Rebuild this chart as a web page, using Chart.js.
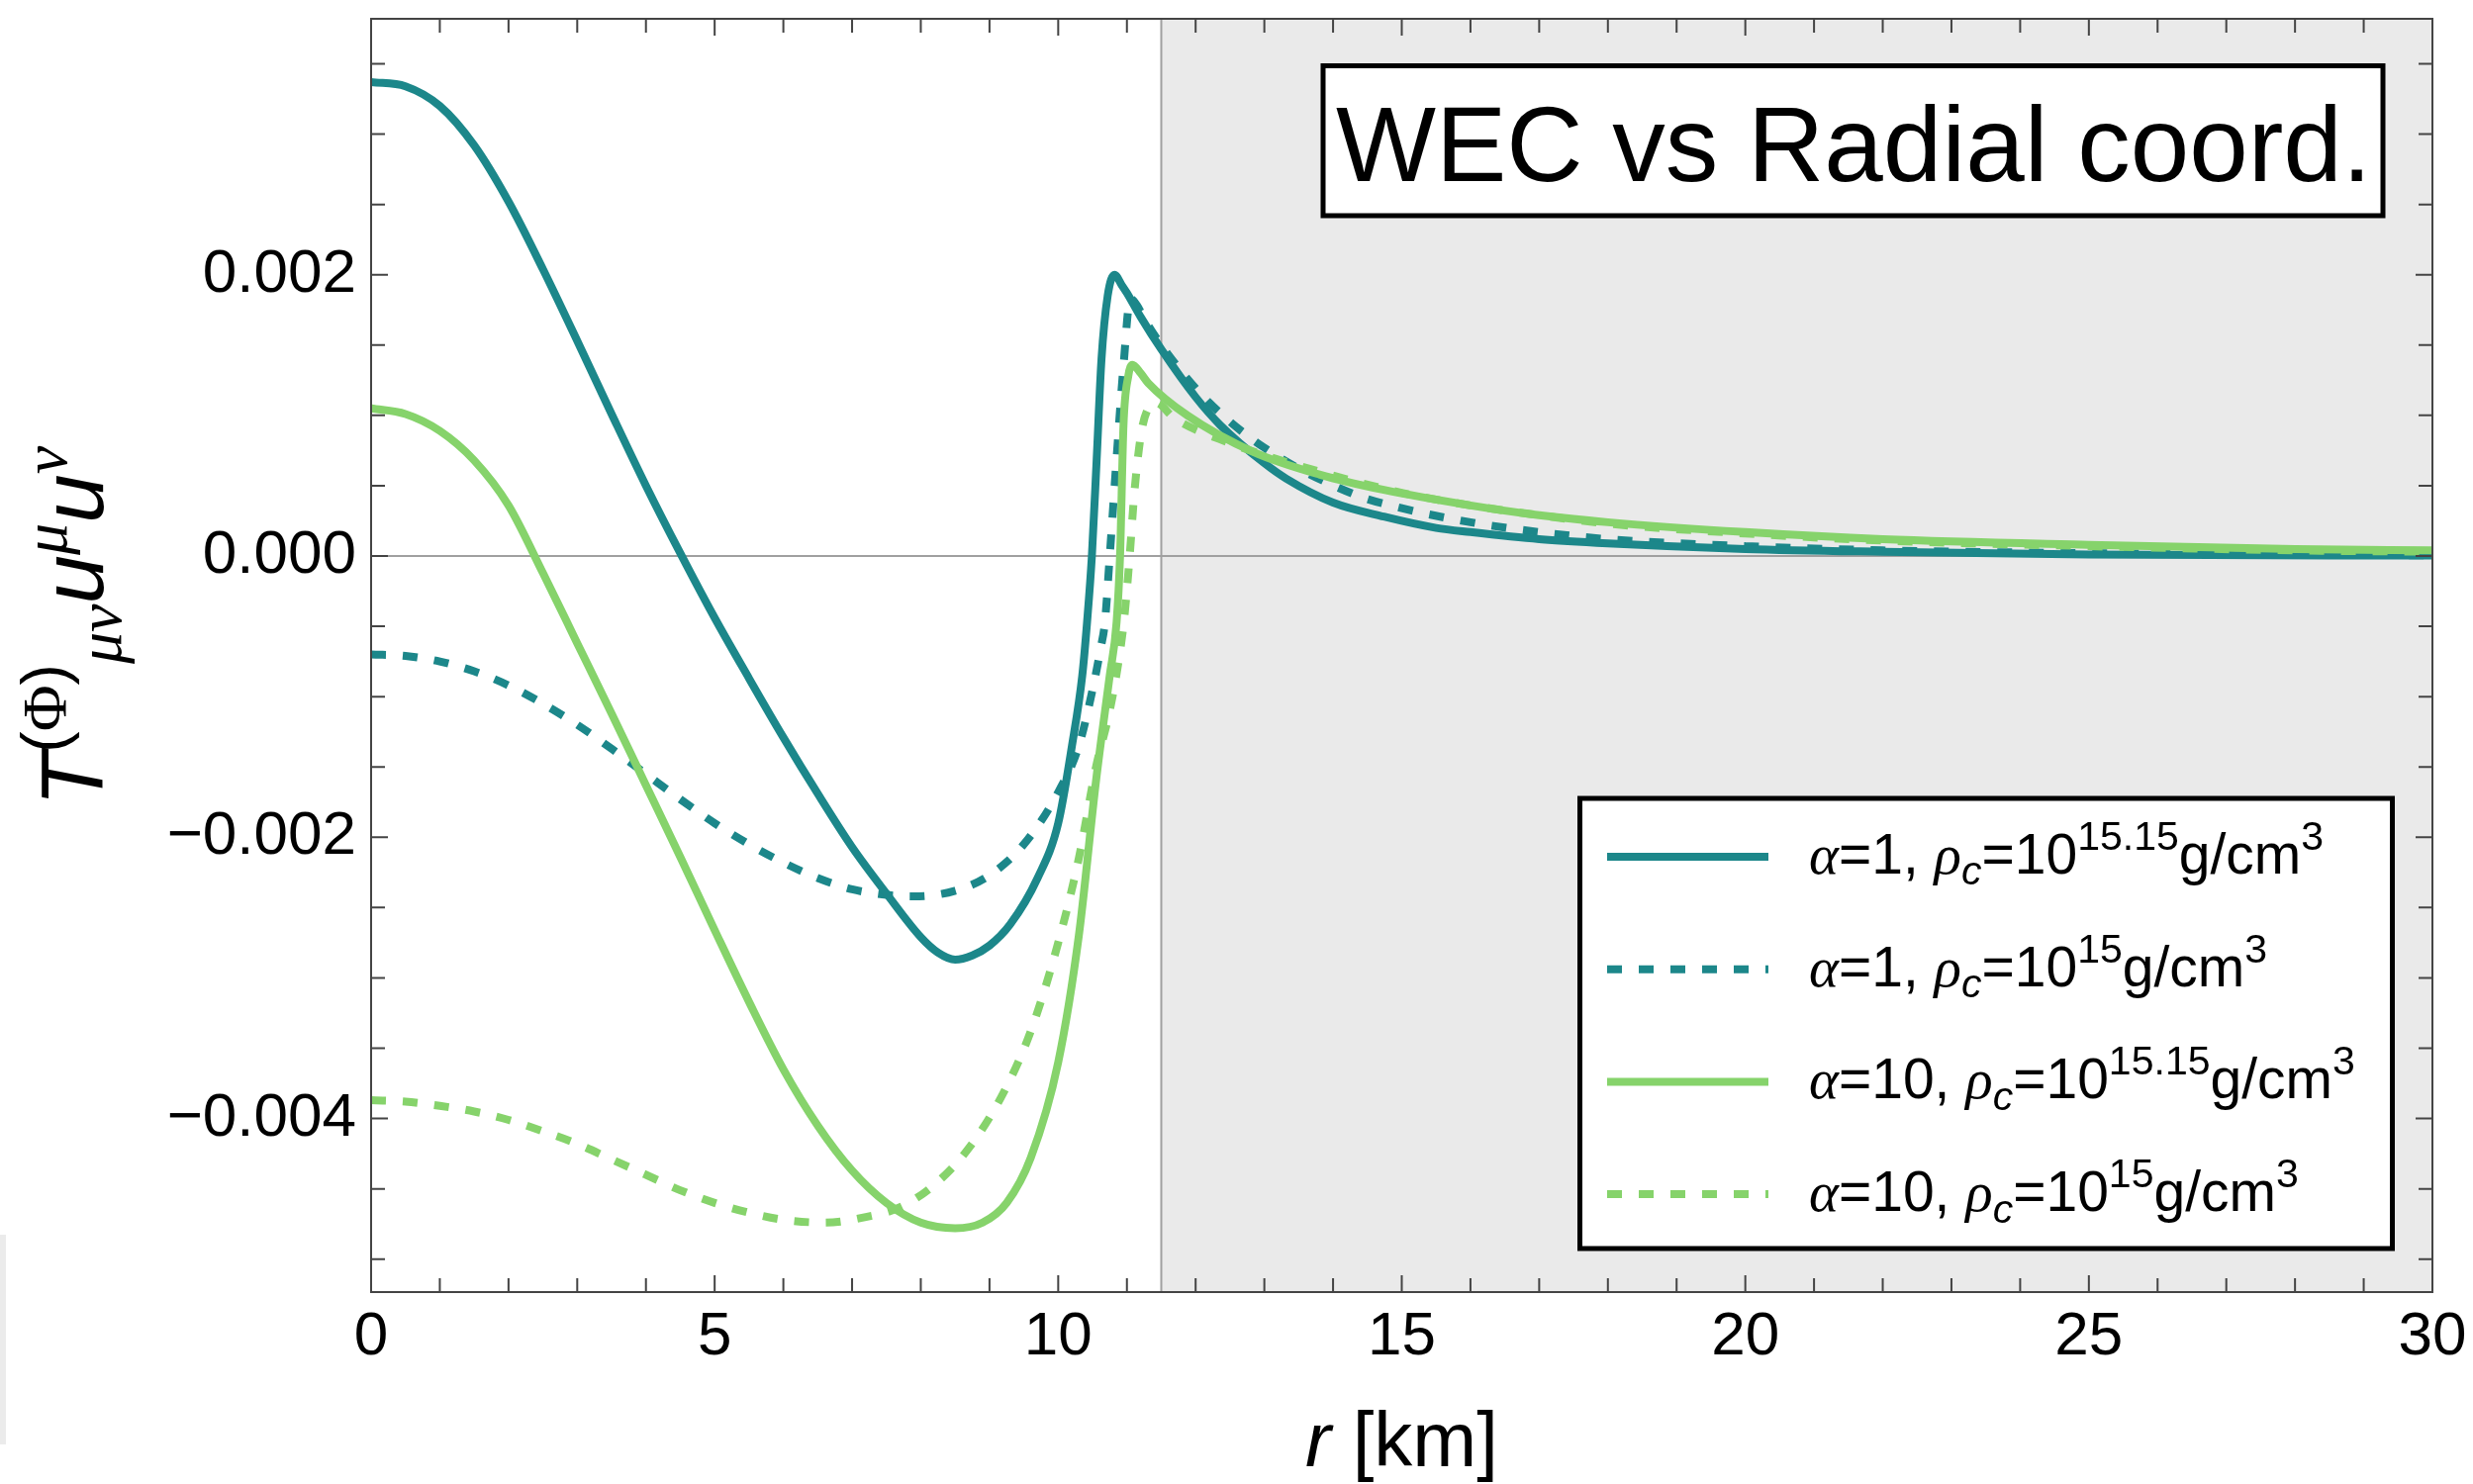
<!DOCTYPE html>
<html>
<head>
<meta charset="utf-8">
<title>WEC vs Radial coord.</title>
<script src="https://cdn.jsdelivr.net/npm/chart.js@4.4.1/dist/chart.umd.min.js"></script>
<style>
  html, body { margin: 0; padding: 0; background: #fff; }
  #wrap { width: 2499px; height: 1500px; }
</style>
</head>
<body>
<div id="wrap"><canvas id="wecChart" width="2499" height="1500"></canvas></div>
<script>
// r [km] and T_{mu nu} u^mu u^nu for each model
const rA = [0, 0.5, 1, 1.5, 2, 2.5, 3, 3.5, 4, 4.5, 5, 5.5, 6, 6.5, 7, 7.5, 8, 8.25, 8.5, 8.75, 9, 9.3, 9.7, 10, 10.2, 10.35, 10.42, 10.49, 10.56, 10.63, 10.72, 10.82, 10.92, 11.0, 11.2, 11.5, 12, 12.36, 13, 13.32, 14, 14.74, 15.5, 16, 17, 18, 20, 22, 25, 30];
const vA = [0.00337, 0.00334, 0.00320, 0.00292, 0.00252, 0.00204, 0.00153, 0.00101, 0.00050, 0.00002, -0.00044, -0.00087, -0.00129, -0.00169, -0.00207, -0.00240, -0.00271, -0.00282, -0.00287, -0.00284, -0.00277, -0.00262, -0.00229, -0.00190, -0.00135, -0.00085, -0.00047, 0, 0.00069, 0.00140, 0.00185, 0.00200, 0.00193, 0.00187, 0.00170, 0.00147, 0.00113, 0.00093, 0.00066, 0.00055, 0.00038, 0.00028, 0.00020, 0.00017, 0.00012, 0.00009, 0.00005, 0.00003, 0.00001, 0.000003];

const rB = [0, 0.5, 1, 1.5, 2, 2.5, 3, 3.5, 4, 4.5, 5, 5.5, 6, 6.5, 7, 7.5, 7.9, 8.5, 9, 9.5, 10, 10.3, 10.5, 10.62, 10.68, 10.75, 10.85, 10.95, 11.05, 11.15, 11.26, 11.62, 12.2, 13, 14.3, 15, 16, 17, 18, 20, 22, 25, 30];
const vB = [-0.00070, -0.00071, -0.00075, -0.00082, -0.00092, -0.00105, -0.00120, -0.00137, -0.00155, -0.00173, -0.00190, -0.00205, -0.00218, -0.00229, -0.00237, -0.00241, -0.00242, -0.00238, -0.00227, -0.00205, -0.00168, -0.00135, -0.00095, -0.00065, -0.00047, 0, 0.00070, 0.00135, 0.00183, 0.00178, 0.00168, 0.00142, 0.00109, 0.00077, 0.00044, 0.00034, 0.00024, 0.00017, 0.00012, 0.00007, 0.00004, 0.00002, 0.000005];

const rC = [0, 0.5, 1, 1.5, 2, 2.5, 3, 3.5, 4, 4.5, 5, 5.5, 6, 6.5, 7, 7.5, 8, 8.5, 8.9, 9.25, 9.6, 10, 10.3, 10.55, 10.75, 10.85, 10.9, 10.95, 11.02, 11.08, 11.2, 11.31, 11.88, 12.84, 13.8, 14.74, 16, 17, 18, 20, 22, 25, 28, 30];
const vC = [0.00105, 0.00101, 0.00089, 0.00068, 0.00036, -0.00012, -0.00062, -0.00112, -0.00163, -0.00214, -0.00266, -0.00317, -0.00365, -0.00405, -0.00437, -0.00460, -0.00474, -0.00478, -0.00474, -0.00460, -0.00428, -0.00360, -0.00270, -0.00160, -0.00085, -0.00047, 0, 0.00093, 0.00128, 0.00136, 0.00130, 0.00123, 0.00100, 0.00074, 0.00058, 0.00047, 0.00036, 0.00029, 0.00024, 0.00017, 0.00012, 0.00008, 0.00005, 0.00004];

const rD = [0, 0.5, 1, 1.5, 2, 2.5, 3, 3.5, 4, 4.5, 5, 5.5, 6, 6.6, 7.2, 7.7, 8.2, 8.7, 9.2, 9.6, 10, 10.3, 10.55, 10.75, 10.9, 10.97, 11.04, 11.11, 11.21, 11.31, 11.42, 11.69, 12.46, 13.8, 15, 16, 17, 18, 20, 22, 25, 28, 30];
const vD = [-0.00387, -0.00388, -0.00391, -0.00395, -0.00401, -0.00409, -0.00418, -0.00429, -0.00440, -0.00451, -0.00460, -0.00467, -0.00472, -0.00474, -0.00470, -0.00463, -0.00447, -0.00421, -0.00382, -0.00338, -0.00275, -0.00215, -0.00150, -0.00110, -0.00068, -0.00040, 0, 0.00046, 0.00088, 0.00105, 0.00109, 0.00098, 0.00081, 0.00060, 0.00045, 0.00036, 0.00029, 0.00023, 0.00016, 0.00011, 0.00007, 0.00004, 0.00003];

const alphaValues = ['1', '1', '10', '10'];
const rhoExponents = ['15.15', '15', '15.15', '15'];
const xTickValues = [0, 5, 10, 15, 20, 25, 30];
const yTickValues = [-0.004, -0.002, 0, 0.002];
const surfaceR = 11.5;
const chartTitle = 'WEC vs Radial coord.';

const teal = '#1c878a';
const green = '#86d36b';
const dash = [15, 17];
const sans = '"Liberation Sans", Arial, sans-serif';
const serif = '"Liberation Serif", "DejaVu Serif", serif';

const toXY = (rs, vs) => rs.map((r, i) => ({x: r, y: vs[i]}));

function segFont(s, size, k) {
  const fs = (s.sup || s.sub) ? size * k : size;
  return (s.it ? 'italic ' : '') + fs + 'px ' + (s.serif ? serif : sans);
}
function richWidth(ctx, segs, size, k) {
  let w = 0;
  for (const s of segs) { ctx.font = segFont(s, size, k); w += ctx.measureText(s.t).width; }
  return w;
}
function drawRich(ctx, x, y, segs, size, k) {
  let cx = x;
  ctx.textAlign = 'left';
  ctx.textBaseline = 'alphabetic';
  for (const s of segs) {
    ctx.font = segFont(s, size, k);
    const dy = s.sup ? -size * 0.42 : (s.sub ? size * 0.2 : 0);
    ctx.fillText(s.t, cx, y + dy);
    cx += ctx.measureText(s.t).width;
  }
}
function legendSegs(i) {
  return [
    {t: 'α', it: true, serif: true},
    {t: '=' + alphaValues[i] + ', '},
    {t: 'ρ', it: true, serif: true},
    {t: 'c', it: true, sub: true},
    {t: '=10'},
    {t: rhoExponents[i], sup: true},
    {t: 'g/cm'},
    {t: '3', sup: true}
  ];
}

const decor = {
  id: 'decor',
  beforeDatasetsDraw(chart) {
    const {ctx, chartArea: a, scales: {x, y}} = chart;
    ctx.save();
    const xs = x.getPixelForValue(surfaceR);
    ctx.fillStyle = '#eaeaea';
    ctx.fillRect(xs, a.top, a.right - xs, a.bottom - a.top);
    ctx.strokeStyle = '#a0a0a0';
    ctx.lineWidth = 2;
    const y0 = y.getPixelForValue(0);
    ctx.beginPath();
    ctx.moveTo(a.left, y0); ctx.lineTo(a.right, y0);
    ctx.moveTo(xs, a.top); ctx.lineTo(xs, a.bottom);
    ctx.stroke();
    ctx.restore();
  },
  afterDatasetsDraw(chart) {
    const {ctx, chartArea: a, scales: {x, y}} = chart;
    ctx.save();
    ctx.strokeStyle = '#444';
    ctx.lineWidth = 2;
    ctx.strokeRect(a.left, a.top, a.right - a.left, a.bottom - a.top);
    ctx.beginPath();
    for (let r = 1; r < 30; r++) {
      const px = x.getPixelForValue(r);
      const len = r % 5 === 0 ? 17 : 14;
      ctx.moveTo(px, a.bottom); ctx.lineTo(px, a.bottom - len);
      ctx.moveTo(px, a.top); ctx.lineTo(px, a.top + len);
    }
    for (let k = -10; k <= 7; k++) {
      const py = y.getPixelForValue(k * 0.0005);
      const len = k % 4 === 0 ? 17 : 14;
      ctx.moveTo(a.left, py); ctx.lineTo(a.left + len, py);
      ctx.moveTo(a.right, py); ctx.lineTo(a.right - len, py);
    }
    ctx.stroke();
    ctx.restore();
  },
  afterDraw(chart) {
    const {ctx} = chart;
    const a = chart.chartArea;
    ctx.save();

    // title box
    ctx.fillStyle = '#fff';
    ctx.fillRect(1337, 66.5, 1071, 151.5);
    ctx.strokeStyle = '#000';
    ctx.lineWidth = 5;
    ctx.strokeRect(1337, 66.5, 1071, 151.5);
    ctx.fillStyle = '#000';
    ctx.font = '107px ' + sans;
    ctx.textAlign = 'left';
    ctx.textBaseline = 'alphabetic';
    ctx.fillText(chartTitle, 1350, 183);

    // legend
    ctx.fillStyle = '#fff';
    ctx.fillRect(1596.5, 807, 821, 455);
    ctx.strokeRect(1596.5, 807, 821, 455);
    chart.data.datasets.forEach((ds, i) => {
      const ly = 866 + i * 113.7;
      ctx.save();
      ctx.strokeStyle = ds.borderColor;
      ctx.lineWidth = ds.borderWidth;
      ctx.setLineDash(ds.borderDash || []);
      ctx.beginPath();
      ctx.moveTo(1624, ly); ctx.lineTo(1787, ly);
      ctx.stroke();
      ctx.restore();
      ctx.fillStyle = '#000';
      drawRich(ctx, 1828, ly + 17, legendSegs(i), 57, 0.72);
    });

    // x axis title
    const xt = [{t: 'r', it: true}, {t: ' [km]'}];
    const xw = richWidth(ctx, xt, 78, 1);
    drawRich(ctx, (a.left + a.right) / 2 - xw / 2, 1482, xt, 78, 1);

    // y axis title, rotated, reading upwards from the T
    const yt = [
      {t: 'T', it: true},
      {t: '(', sup: true},
      {t: 'Φ', sup: true, serif: true},
      {t: ')', sup: true},
      {t: 'μν', it: true, serif: true, sub: true},
      {t: 'u', it: true},
      {t: 'μ', it: true, serif: true, sup: true},
      {t: 'u', it: true},
      {t: 'ν', it: true, serif: true, sup: true}
    ];
    ctx.save();
    ctx.translate(104, 815);
    ctx.rotate(-Math.PI / 2);
    drawRich(ctx, 0, 0, yt, 89, 0.72);
    ctx.restore();

    // scan edge at far left
    ctx.fillStyle = '#ebebeb';
    ctx.fillRect(0, 1248, 6, 212);
    ctx.restore();
  }
};

const ctx = document.getElementById('wecChart').getContext('2d');
const wecChart = new Chart(ctx, {
  type: 'line',
  data: {
    datasets: [{
      label: 'alpha=1, rho_c=10^15.15',
      data: toXY(rA, vA),
      borderColor: teal,
      borderWidth: 8,
      order: 1
    }, {
      label: 'alpha=1, rho_c=10^15',
      data: toXY(rB, vB),
      borderColor: teal,
      borderWidth: 8,
      borderDash: dash,
      order: 1
    }, {
      label: 'alpha=10, rho_c=10^15.15',
      data: toXY(rC, vC),
      borderColor: green,
      borderWidth: 8,
      order: 0
    }, {
      label: 'alpha=10, rho_c=10^15',
      data: toXY(rD, vD),
      borderColor: green,
      borderWidth: 8,
      borderDash: dash,
      order: 0
    }]
  },
  options: {
    responsive: false,
    animation: false,
    devicePixelRatio: 1,
    layout: { padding: { top: 19, right: 41, left: 0, bottom: 0 } },
    elements: {
      point: { radius: 0 },
      line: { cubicInterpolationMode: 'monotone', borderCapStyle: 'butt', fill: false }
    },
    plugins: {
      legend: { display: false },
      tooltip: { enabled: false }
    },
    scales: {
      x: {
        type: 'linear',
        min: 0,
        max: 30,
        grid: { display: false, drawTicks: false },
        border: { display: false },
        afterFit: s => { s.height = 194; s.paddingLeft = 0; s.paddingRight = 0; },
        afterBuildTicks: s => { s.ticks = xTickValues.map(v => ({value: v})); },
        ticks: {
          padding: 9,
          color: '#000',
          font: { family: sans, size: 62 },
          maxRotation: 0,
          callback: v => String(v)
        }
      },
      y: {
        type: 'linear',
        min: -0.005234,
        max: 0.00382,
        grid: { display: false, drawTicks: false },
        border: { display: false },
        afterFit: s => { s.width = 375; s.paddingTop = 0; s.paddingBottom = 0; },
        afterBuildTicks: s => { s.ticks = yTickValues.map(v => ({value: v})); },
        ticks: {
          padding: 15,
          color: '#000',
          font: { family: sans, size: 62 },
          callback: v => (v < 0 ? '\u2212' : '') + Math.abs(v).toFixed(3)
        }
      }
    }
  },
  plugins: [decor]
});
</script>
</body>
</html>
